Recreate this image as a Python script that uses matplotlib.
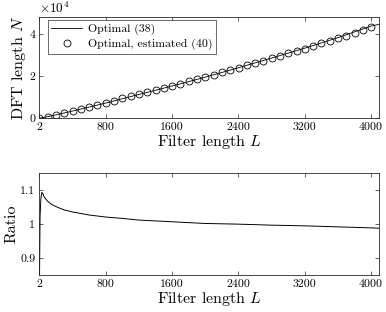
import numpy as np
import matplotlib
matplotlib.use("Agg")
import matplotlib.pyplot as plt

plt.rcParams['font.family'] = 'serif'
plt.rcParams['font.serif'] = ['cmr10', 'DejaVu Serif']
plt.rcParams['mathtext.fontset'] = 'cm'
plt.rcParams['axes.formatter.use_mathtext'] = True
plt.rcParams['axes.unicode_minus'] = False

# optimal DFT length (38)
L_opt = [2, 100, 200, 400, 800, 1200, 1600, 2000, 2400, 2800, 3200, 3600, 4000, 4096]
N_opt = [10, 750, 1600, 3400, 7200, 11300, 15300, 19500, 24000, 28600, 33300,
         38300, 43800, 44700]

# estimated optimal DFT length (40), markers
L_est = [2, 102, 202, 302, 402, 502, 602, 702, 802, 902, 1002, 1102, 1202, 1302,
         1402, 1502, 1602, 1702, 1802, 1902, 2002, 2102, 2202, 2302, 2402, 2502,
         2602, 2702, 2802, 2902, 3002, 3102, 3202, 3302, 3402, 3502, 3602, 3702,
         3802, 3902, 4002]
N_est = [8, 820, 1700, 2600, 3530, 4480, 5440, 6400, 7370, 8380, 9390, 10410,
         11460, 12460, 13440, 14430, 15430, 16470, 17490, 18530, 19560, 20670,
         21790, 22900, 24010, 25130, 26280, 27400, 28530, 29710, 30850, 32010,
         33150, 34360, 35600, 36810, 38020, 39290, 40560, 41870, 43300]

# ratio estimated / optimal
L_ratio = [2, 10, 20, 30, 40, 60, 100, 150, 200, 300, 400, 600, 800, 1000, 1200,
           1600, 2000, 2400, 2800, 3200, 3600, 4000, 4096]
ratio = [0.80, 1.02, 1.075, 1.093, 1.092, 1.08, 1.068, 1.058, 1.052, 1.042, 1.036,
         1.027, 1.021, 1.017, 1.012, 1.007, 1.002, 1.000, 0.997, 0.995, 0.992,
         0.989, 0.988]

xticks = [2, 800, 1600, 2400, 3200, 4000]
frame = '#262626'

fig = plt.figure(figsize=(3.86, 3.12), dpi=100)
ax1 = fig.add_axes([0.102, 0.621, 0.880, 0.325])
ax2 = fig.add_axes([0.102, 0.1186, 0.880, 0.326])

ax1.plot(L_opt, N_opt, color='k', lw=0.6, label='Optimal (38)')
ax1.plot(L_est, N_est, 'o', mfc='none', mec='k', ms=5, mew=0.6,
         label='Optimal, estimated (40)')
ax1.set_xlim(2, 4096)
ax1.set_ylim(0, 48200)
ax1.set_yticks([0, 20000, 40000])
ax1.set_yticklabels(['0', '2', '4'])
ax1.text(0.0, 1.01, r'$\times 10^4$', transform=ax1.transAxes, fontsize=9.5,
         ha='left', va='bottom')
ax1.set_ylabel(r'DFT length $N$', fontsize=11.5, labelpad=1)
leg = ax1.legend(loc='upper left', bbox_to_anchor=(0.025, 0.968), borderaxespad=0,
                 fontsize=8.5, frameon=True, fancybox=False, handlelength=2.6,
                 handletextpad=0.5, borderpad=0.3, labelspacing=0.3)
leg.get_frame().set_edgecolor(frame)
leg.get_frame().set_linewidth(0.6)

ax2.plot(L_ratio, ratio, color='k', lw=0.7)
ax2.set_xlim(2, 4096)
ax2.set_ylim(0.85, 1.15)
ax2.set_yticks([0.9, 1.0, 1.1])
ax2.set_yticklabels(['0.9', '1', '1.1'])
ax2.set_ylabel('Ratio', fontsize=11.5, labelpad=1)

for ax in (ax1, ax2):
    ax.set_xticks(xticks)
    ax.set_xticklabels([str(t) for t in xticks])
    ax.set_xlabel(r'Filter length $L$', fontsize=11.5, labelpad=1)
    ax.tick_params(direction='in', length=3, width=0.5, top=True, right=True,
                   labelsize=8.5, colors=frame, labelcolor='k', pad=3)
    for s in ax.spines.values():
        s.set_color(frame)
        s.set_linewidth(0.6)

fig.savefig('out.png', dpi=100)
